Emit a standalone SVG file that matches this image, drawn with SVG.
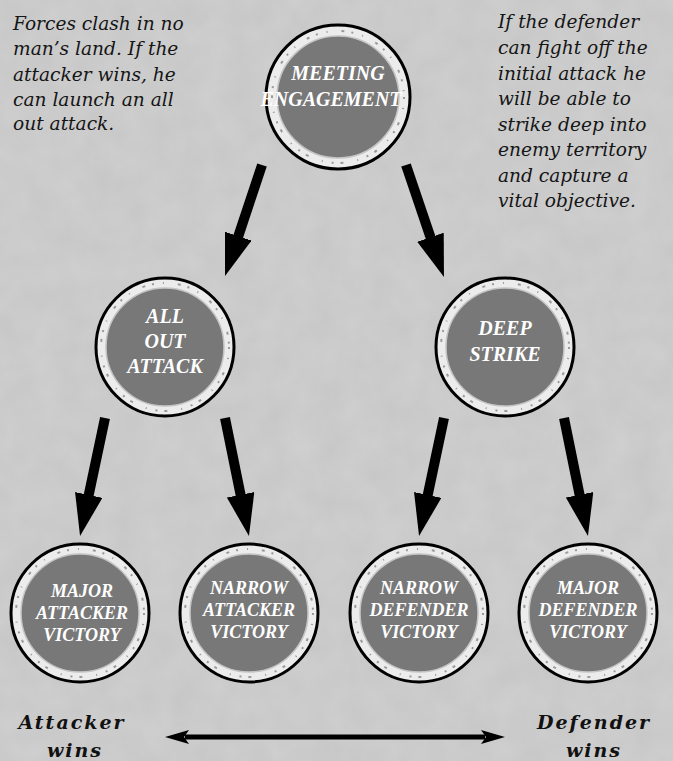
<svg xmlns="http://www.w3.org/2000/svg" width="673" height="761" viewBox="0 0 673 761">
<defs>
<style>
.bg{fill:#c7c7c7}
.ring{fill:#ececec;stroke:#000;stroke-width:3}
.speck{fill:none;stroke:#9a9a9a;stroke-width:2;stroke-dasharray:2 9 1 14 3 7}
.core{fill:#787878;stroke:#c4c4c4;stroke-width:1.5}
.lbl{font-family:"Liberation Serif","Times New Roman",serif;font-style:italic;font-weight:bold;fill:#fff;text-anchor:middle}
.big{font-size:20px}
.small{font-size:18px}
.cap{font-family:"DejaVu Serif","Liberation Serif",serif;font-style:italic;font-size:18.6px;fill:#151515}
.side{font-family:"DejaVu Serif","Liberation Serif",serif;font-style:italic;font-weight:bold;font-size:19px;fill:#111;text-anchor:middle;letter-spacing:2px}
.shaft{stroke:#000;stroke-width:10;fill:none}
.thin{stroke:#000;stroke-width:5;fill:none}
</style>
<marker id="head" markerUnits="userSpaceOnUse" viewBox="0 0 42 28" refX="6" refY="14" markerWidth="42" markerHeight="28" orient="auto">
<path d="M0,0 L42,14 L0,28 Z" fill="#000"/>
</marker>
<marker id="head2" markerUnits="userSpaceOnUse" viewBox="0 0 24 14" refX="4" refY="7" markerWidth="24" markerHeight="14" orient="auto-start-reverse">
<path d="M0,0 L24,7 L0,14 L5,7 Z" fill="#000"/>
</marker>
<filter id="grain" x="0" y="0" width="100%" height="100%">
<feTurbulence type="fractalNoise" baseFrequency="0.035" numOctaves="3" seed="4" result="n"/>
<feColorMatrix type="matrix" values="0 0 0 0 1  0 0 0 0 1  0 0 0 0 1  0 0 0 0.18 -0.02" in="n"/>
</filter>
</defs>
<rect class="bg" x="0" y="0" width="673" height="761"/>
<rect x="0" y="0" width="673" height="761" filter="url(#grain)"/>

<g id="connectors">
<line class="shaft" x1="262" y1="165" x2="236.4" y2="241.8" marker-end="url(#head)"/>
<line class="shaft" x1="406" y1="165" x2="432.4" y2="242.9" marker-end="url(#head)"/>
<line class="shaft" x1="105" y1="418" x2="87.5" y2="500.8" marker-end="url(#head)"/>
<line class="shaft" x1="225" y1="418" x2="241.8" y2="500.7" marker-end="url(#head)"/>
<line class="shaft" x1="444" y1="418" x2="426.5" y2="500.8" marker-end="url(#head)"/>
<line class="shaft" x1="564" y1="418" x2="580.8" y2="500.7" marker-end="url(#head)"/>
<line class="thin" x1="185" y1="737" x2="485" y2="737" marker-start="url(#head2)" marker-end="url(#head2)"/>
</g>

<g id="meeting-engagement">
<circle class="ring" cx="338" cy="97" r="72"/>
<circle class="speck" cx="338" cy="97" r="66"/>
<circle class="core" cx="338" cy="97" r="61"/>
<text class="lbl big" x="338" y="80">MEETING</text>
<text class="lbl big" x="331" y="106">ENGAGEMENT</text>
</g>

<g id="all-out-attack">
<circle class="ring" cx="165" cy="347" r="69"/>
<circle class="speck" cx="165" cy="347" r="64"/>
<circle class="core" cx="165" cy="347" r="59"/>
<text class="lbl big" x="165" y="323">ALL</text>
<text class="lbl big" x="165" y="348">OUT</text>
<text class="lbl big" x="165" y="373">ATTACK</text>
</g>

<g id="deep-strike">
<circle class="ring" cx="505" cy="347" r="69"/>
<circle class="speck" cx="505" cy="347" r="64"/>
<circle class="core" cx="505" cy="347" r="59"/>
<text class="lbl big" x="505" y="335">DEEP</text>
<text class="lbl big" x="505" y="361">STRIKE</text>
</g>

<g id="major-attacker-victory">
<circle class="ring" cx="80" cy="613" r="69"/>
<circle class="speck" cx="80" cy="613" r="64"/>
<circle class="core" cx="80" cy="613" r="59"/>
<text class="lbl small" x="82" y="597">MAJOR</text>
<text class="lbl small" x="82" y="619">ATTACKER</text>
<text class="lbl small" x="82" y="641">VICTORY</text>
</g>

<g id="narrow-attacker-victory">
<circle class="ring" cx="249" cy="613" r="69"/>
<circle class="speck" cx="249" cy="613" r="64"/>
<circle class="core" cx="249" cy="613" r="59"/>
<text class="lbl small" x="249" y="594">NARROW</text>
<text class="lbl small" x="249" y="616">ATTACKER</text>
<text class="lbl small" x="249" y="638">VICTORY</text>
</g>

<g id="narrow-defender-victory">
<circle class="ring" cx="419" cy="613" r="69"/>
<circle class="speck" cx="419" cy="613" r="64"/>
<circle class="core" cx="419" cy="613" r="59"/>
<text class="lbl small" x="419" y="594">NARROW</text>
<text class="lbl small" x="419" y="616">DEFENDER</text>
<text class="lbl small" x="419" y="638">VICTORY</text>
</g>

<g id="major-defender-victory">
<circle class="ring" cx="588" cy="613" r="69"/>
<circle class="speck" cx="588" cy="613" r="64"/>
<circle class="core" cx="588" cy="613" r="59"/>
<text class="lbl small" x="588" y="594">MAJOR</text>
<text class="lbl small" x="588" y="616">DEFENDER</text>
<text class="lbl small" x="588" y="638">VICTORY</text>
</g>

<g id="caption-left">
<text class="cap" x="13" y="30">Forces clash in no</text>
<text class="cap" x="13" y="55">man’s land. If the</text>
<text class="cap" x="13" y="81">attacker wins, he</text>
<text class="cap" x="13" y="106">can launch an all</text>
<text class="cap" x="13" y="130">out attack.</text>
</g>

<g id="caption-right">
<text class="cap" x="498" y="28">If the defender</text>
<text class="cap" x="498" y="54">can fight off the</text>
<text class="cap" x="498" y="80">initial attack he</text>
<text class="cap" x="498" y="105">will be able to</text>
<text class="cap" x="498" y="131">strike deep into</text>
<text class="cap" x="498" y="156">enemy territory</text>
<text class="cap" x="498" y="182">and capture a</text>
<text class="cap" x="498" y="207">vital objective.</text>
</g>

<g id="attacker-wins">
<text class="side" x="72" y="729">Attacker</text>
<text class="side" x="75" y="757">wins</text>
</g>

<g id="defender-wins">
<text class="side" x="594" y="729">Defender</text>
<text class="side" x="594" y="757">wins</text>
</g>
</svg>
